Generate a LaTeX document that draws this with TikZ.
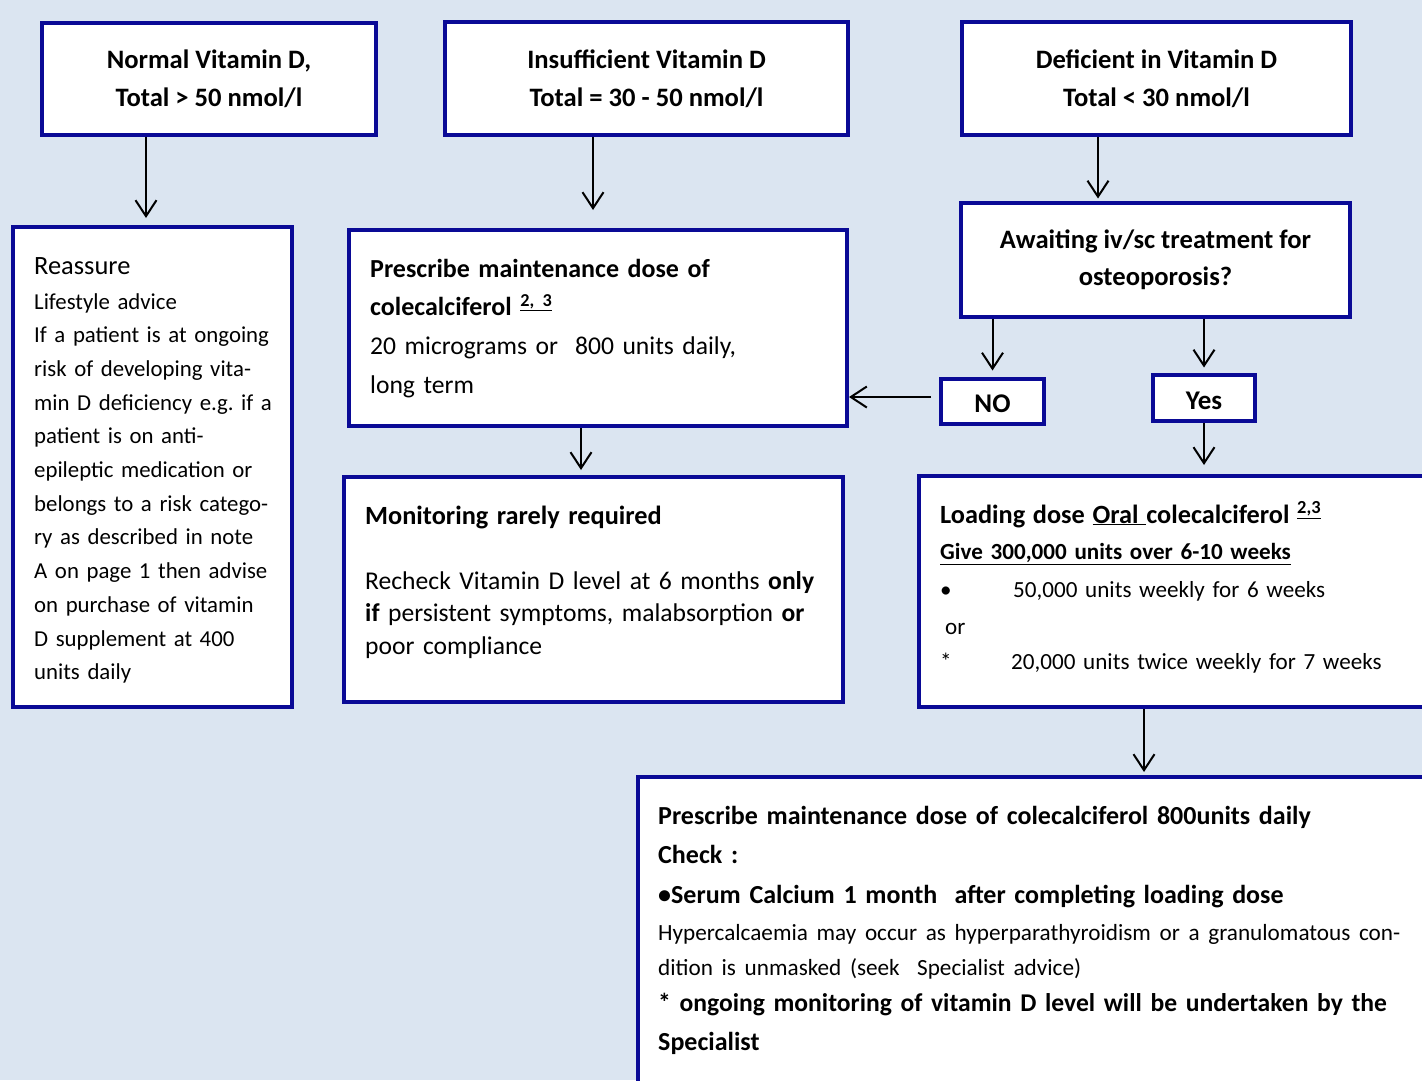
\documentclass[tikz,border=0pt]{standalone}
\usepackage{fontspec}
\setmainfont{Carlito}
\usetikzlibrary{arrows.meta,calc}
\definecolor{pagebg}{HTML}{DBE5F1}
\definecolor{boxblue}{RGB}{10,10,150}
\frenchspacing
\tikzset{
	box/.style={draw=boxblue, line width=4pt, fill=white, inner sep=0pt},
	headbox/.style={box, align=center, font=\fontsize{26.6}{38}\selectfont\bfseries},
	answer/.style={headbox, font=\fontsize{27}{38}\selectfont\bfseries, text height=23pt, text depth=0pt},
	notetxt/.style={anchor=base west, align=left, inner sep=0pt},
	arr/.style={line width=2pt, -{Straight Barb[length=16pt,width=21pt]}},
}
\begin{document}
\begin{tikzpicture}[x=1pt, y=-1pt]
	\useasboundingbox (0,0) rectangle (1422,1080);
	\fill[pagebg] (0,0) rectangle (1422,1080);
	\clip (0,0) rectangle (1422,1080);

	% result levels
	\node[headbox, minimum width=334pt, minimum height=112pt] (normal) at (209,78.5) {Normal Vitamin D,\\Total > 50 nmol/l};
	\node[headbox, minimum width=403pt, minimum height=113pt] (insuff) at (646.5,78.5) {Insufficient Vitamin D\\Total = 30 - 50 nmol/l};
	\node[headbox, minimum width=389pt, minimum height=113pt] (defic) at (1156.5,78.5) {Deficient in Vitamin D\\Total < 30 nmol/l};

	% normal
	\node[box, minimum width=279pt, minimum height=480pt] (reassure) at (152.5,467) {};
	\node[notetxt, text width=255pt, font=\fontsize{22.8}{33.7}\selectfont] (reassuretxt) at ([shift={(23pt,-49pt)}]reassure.north west)
		{{\fontsize{26.4}{33.7}\selectfont Reassure}\\[1.3pt]
		Lifestyle advice\\
		If a patient is at ongoing\\
		risk of developing vita-\\
		min D deficiency e.g. if a\\
		patient is on anti-\\
		epileptic medication or\\
		belongs to a risk catego-\\
		ry as described in note\\
		A on page 1 then advise\\
		on purchase of vitamin\\
		D supplement at 400\\
		units daily};

	% insufficient
	\node[box, minimum width=498pt, minimum height=196pt] (prescr) at (598,328) {};
	\node[notetxt, text width=470pt, font=\fontsize{25.6}{38.7}\selectfont] (prescrtxt) at ([shift={(23pt,-49pt)}]prescr.north west)
		{{\fontsize{26}{38.7}\selectfont\bfseries Prescribe maintenance dose of}\\
		{\fontsize{26}{38.7}\selectfont\bfseries colecalciferol \textsuperscript{\underline{2, 3}}}\\
		20 micrograms or\ \ 800 units daily,\\
		long term};
	\node[box, minimum width=499pt, minimum height=225pt] (monit) at (593.5,589.5) {};
	\node[notetxt, text width=470pt, font=\fontsize{25.6}{32.5}\selectfont] (monittxt) at ([shift={(23pt,-49pt)}]monit.north west)
		{{\fontsize{26.3}{32.5}\selectfont\bfseries Monitoring rarely required}\\[32.5pt]
		Recheck Vitamin D level at 6 months \textbf{only}\\
		\textbf{if} persistent symptoms, malabsorption \textbf{or}\\
		poor compliance};

	% deficient
	\node[headbox, minimum width=389pt, minimum height=114pt, font=\fontsize{26.6}{37}\selectfont\bfseries] (await) at (1155.5,259.5) {Awaiting iv/sc treatment for\\osteoporosis?};
	\node[answer, minimum width=103pt, minimum height=45pt] (no) at (992.5,401) {NO};
	\node[answer, minimum width=102pt, minimum height=46pt] (yes) at (1204,397.5) {Yes};
	\node[box, minimum width=511pt, minimum height=231pt] (loading) at (1174.5,591.5) {};
	\node[notetxt, text width=480pt, font=\fontsize{23.1}{36.5}\selectfont] (loadingtxt) at ([shift={(23pt,-49pt)}]loading.north west)
		{{\fontsize{26.3}{36.5}\selectfont\bfseries Loading dose \underline{Oral\ }colecalciferol \textsuperscript{\underline{2,3}}}\\
		\textbf{\underline{Give 300,000 units over 6-10 weeks}}\\[1.5pt]
		\makebox[73pt][l]{•}50,000 units weekly for 6 weeks\\
		\hspace{5pt}or\\[-1.5pt]
		\makebox[71pt][l]{*}20,000 units twice weekly for 7 weeks};
	\node[box, minimum width=792pt, minimum height=306pt] (final) at (1034,930) {};
	\node[notetxt, text width=780pt, font=\fontsize{26}{37}\selectfont] (finaltxt) at ([shift={(22pt,-49pt)}]final.north west)
		{\textbf{Prescribe maintenance dose of colecalciferol 800units daily}\\[2pt]
		\textbf{Check :}\\[3pt]
		\textbf{•Serum Calcium 1 month\ \ after completing loading dose}\\
		{\fontsize{23.2}{37}\selectfont Hypercalcaemia may occur as hyperparathyroidism or a granulomatous con-}\\[-2pt]
		{\fontsize{23.2}{37}\selectfont dition is unmasked (seek\ \ Specialist advice)}\\[-1pt]
		{\fontsize{25.6}{37}\selectfont\bfseries * ongoing monitoring of vitamin D level will be undertaken by the}\\[2pt]
		\textbf{Specialist}};

	% connectors
	\draw[arr] ([xshift=-63pt]normal.south) -- ([xshift=-63pt,yshift=7pt]normal.south |- reassure.north);
	\draw[arr] ([xshift=-53.5pt]insuff.south) -- ([xshift=-53.5pt,yshift=18pt]insuff.south |- prescr.north);
	\draw[arr] ([xshift=-58.5pt]defic.south) -- ([xshift=-58.5pt,yshift=2pt]defic.south |- await.north);
	\draw[arr] (await.south -| no.north) -- ([yshift=6pt]no.north);
	\draw[arr] (await.south -| yes.north) -- ([yshift=5pt]yes.north);
	\draw[arr] ([xshift=-8pt,yshift=4pt]no.west) -- ([yshift=4pt]no.west -| prescr.east);
	\draw[arr] ([xshift=-17pt]prescr.south) -- ([xshift=-17pt,yshift=5pt]prescr.south |- monit.north);
	\draw[arr] (yes.south) -- ([yshift=9pt]yes.south |- loading.north);
	\draw[arr] ([xshift=-30.5pt]loading.south) -- ([xshift=-30.5pt,yshift=3pt]loading.south |- final.north);
\end{tikzpicture}
\end{document}
